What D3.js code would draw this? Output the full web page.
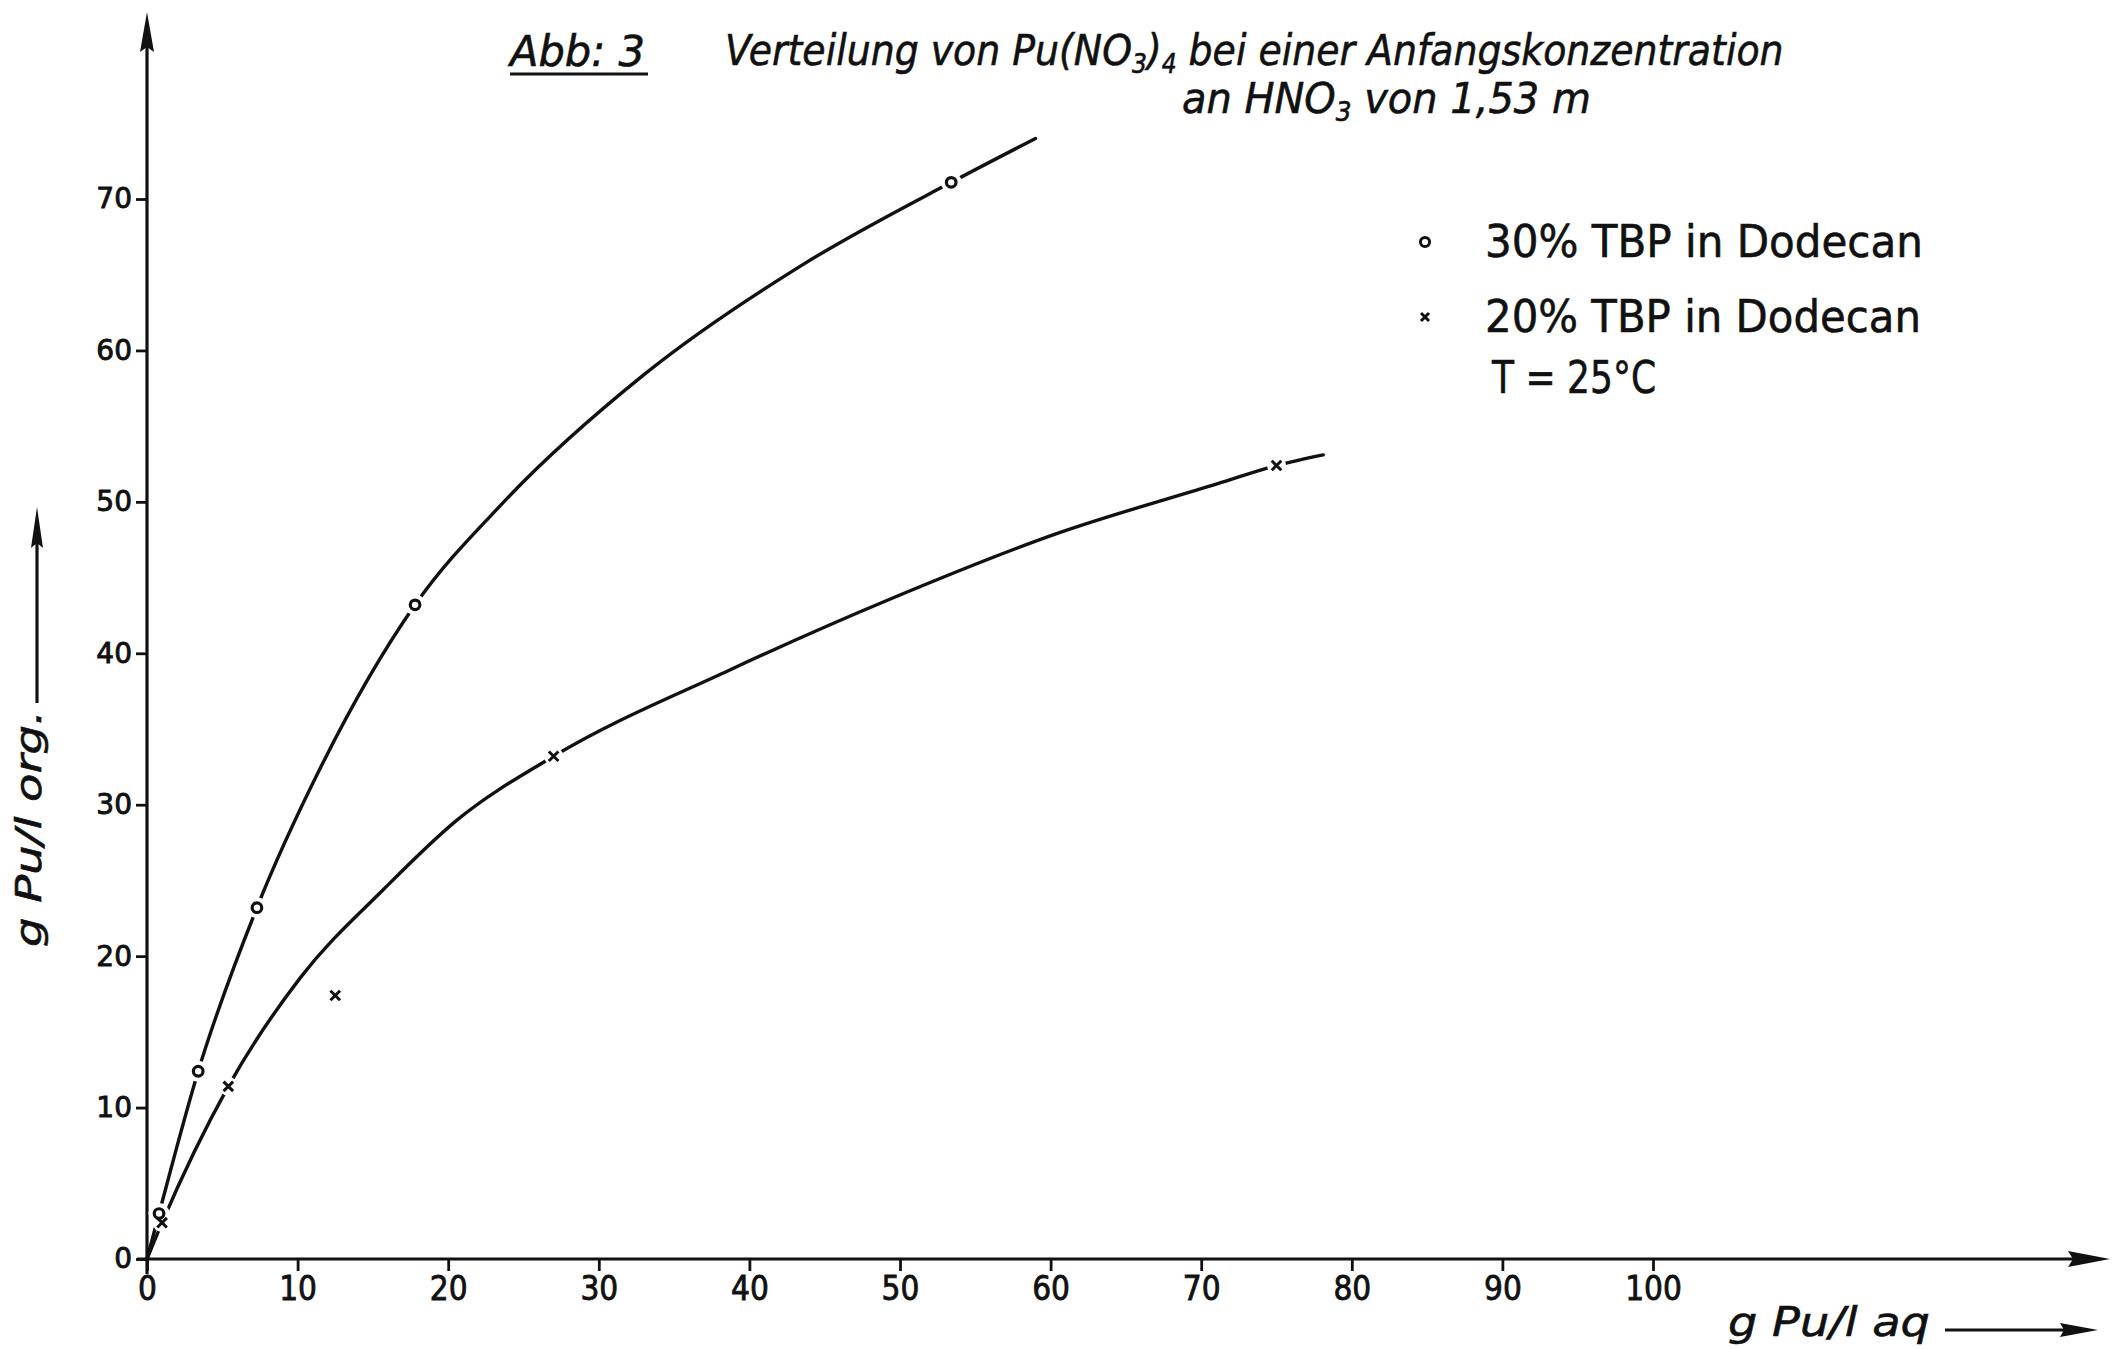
<!DOCTYPE html>
<html>
<head>
<meta charset="utf-8">
<script src="https://cdn.jsdelivr.net/npm/d3@7"></script>
<style>
  html, body { margin: 0; padding: 0; background: #fff; }
  svg { display: block; }
</style>
</head>
<body>
<svg id="chart" width="2113" height="1349"></svg>
<script>
// ---------------- DATA ----------------
const xTicks = [0, 10, 20, 30, 40, 50, 60, 70, 80, 90, 100];
const yTicks = [0, 10, 20, 30, 40, 50, 60, 70];

// measured points, 30% TBP in Dodecan (circles)
const tbp30X = [0.8, 3.4, 7.3, 17.8, 53.4];
const tbp30Y = [3.0, 12.4, 23.2, 43.2, 71.1];

// measured points, 20% TBP in Dodecan (crosses)
const tbp20X = [1.0, 5.4, 12.5, 27.0, 75.0];
const tbp20Y = [2.4, 11.4, 17.4, 33.2, 52.4];

// hand-drawn fitted curves
const curve30X = [0, 0.8, 3.4, 7.3, 11.6, 17.8, 23.6, 33.0, 43.6, 53.4, 59.0];
const curve30Y = [0, 3.0, 12.4, 23.2, 32.6, 43.2, 49.9, 58.4, 65.7, 71.1, 74.0];

const curve20X = [0, 1.0, 5.4, 10.2, 15.7, 20.6, 27.0, 38.7, 49.4, 60.4, 71.1, 75.0, 78.1];
const curve20Y = [0, 2.4, 11.4, 18.6, 24.4, 29.0, 33.2, 38.9, 43.6, 47.9, 51.2, 52.4, 53.1];

const legendLabels = ["30% TBP in Dodecan", "20% TBP in Dodecan"];
const tempLabel = "T = 25°C";
const xTitle = "g Pu/l aq";
const yTitle = "g Pu/l org.";

// ---------------- DRAW ----------------
const svg = d3.select("#chart");
const ink = "#111";

const x = d3.scaleLinear().domain([0, 100]).range([147, 1653]);
const y = d3.scaleLinear().domain([0, 70]).range([1259, 199]);

// helper: place text scaled horizontally to a target width
function fitText(parent, tx, ty, target, build, rotate) {
  const g = parent.append("g");
  const t = g.append("text").attr("x", 0).attr("y", 0);
  build(t);
  const w = t.node().getBBox().width;
  const sx = target / w;
  g.attr("transform", `translate(${tx},${ty})` + (rotate ? ` rotate(${rotate})` : "") + ` scale(${sx},1)`);
  return g;
}

// axes lines
const x0 = x(0), y0 = y(0);
svg.append("line").attr("x1", x0 - 10).attr("x2", 2075).attr("y1", y0).attr("y2", y0)
  .attr("stroke", ink).attr("stroke-width", 3.2);
svg.append("path").attr("d", `M2110,${y0} L2068,${y0 - 8} L2073,${y0} L2068,${y0 + 8} Z`).attr("fill", ink);
svg.append("line").attr("x1", x0).attr("x2", x0).attr("y1", y0 + 15).attr("y2", 45)
  .attr("stroke", ink).attr("stroke-width", 3.2);
svg.append("path").attr("d", `M${x0},12 L${x0 - 7},52 L${x0},47 L${x0 + 7},52 Z`).attr("fill", ink);

// x axis ticks
const gx = svg.append("g").attr("transform", `translate(0,${y0})`)
  .call(d3.axisBottom(x).tickValues(xTicks).tickSize(12).tickPadding(6).tickFormat(d3.format("d")));
gx.select(".domain").remove();
gx.selectAll(".tick line").attr("stroke", ink).attr("stroke-width", 2.8);
gx.selectAll(".tick text").attr("fill", ink).attr("stroke", ink).attr("stroke-width", 0.8)
  .style("font-family", "'Liberation Sans Narrow', 'DejaVu Sans Condensed', sans-serif")
  .style("font-size", "33px");

// y axis ticks
const gy = svg.append("g").attr("transform", `translate(${x0},0)`)
  .call(d3.axisLeft(y).tickValues(yTicks).tickSize(11).tickPadding(4).tickFormat(d3.format("d")));
gy.select(".domain").remove();
gy.selectAll(".tick line").attr("stroke", ink).attr("stroke-width", 2.8);
gy.selectAll(".tick text").attr("fill", ink).attr("stroke", ink).attr("stroke-width", 0.9)
  .style("font-family", "'DejaVu Sans', sans-serif")
  .style("font-size", "28px");

// curves
const line = d3.line().x(d => x(d[0])).y(d => y(d[1])).curve(d3.curveMonotoneX);
svg.append("path").datum(d3.zip(curve30X, curve30Y)).attr("d", line)
  .attr("fill", "none").attr("stroke", ink).attr("stroke-width", 3.4).attr("stroke-linecap", "round");
svg.append("path").datum(d3.zip(curve20X, curve20Y)).attr("d", line)
  .attr("fill", "none").attr("stroke", ink).attr("stroke-width", 3.4).attr("stroke-linecap", "round");

// markers with white gap (the drawn line is interrupted near each point)
const pts30 = d3.zip(tbp30X, tbp30Y);
const pts20 = d3.zip(tbp20X, tbp20Y);

svg.append("g").selectAll("circle").data(pts30).join("circle")
  .attr("cx", d => x(d[0])).attr("cy", d => y(d[1])).attr("r", 10.5).attr("fill", "#fff");
svg.append("g").selectAll("circle").data(pts20).join("circle")
  .attr("cx", d => x(d[0])).attr("cy", d => y(d[1])).attr("r", 9.5).attr("fill", "#fff");

svg.append("g").selectAll("circle").data(pts30).join("circle")
  .attr("cx", d => x(d[0])).attr("cy", d => y(d[1])).attr("r", 4.8)
  .attr("fill", "#fff").attr("stroke", ink).attr("stroke-width", 3.2);

function cross(sel, s) {
  sel.append("path").attr("d", d => {
    const cx = x(d[0]), cy = y(d[1]);
    return `M${cx - s},${cy - s}L${cx + s},${cy + s}M${cx - s},${cy + s}L${cx + s},${cy - s}`;
  }).attr("stroke", ink).attr("stroke-width", 3).attr("fill", "none");
}
const gc = svg.append("g").selectAll("g").data(pts20).join("g");
cross(gc, 4.8);

// title
const titleFont = "'DejaVu Sans', sans-serif";
fitText(svg, 510, 66, 138, t => {
  t.style("font-family", titleFont).style("font-style", "italic").style("font-size", "42px")
   .attr("fill", ink).attr("stroke", ink).attr("stroke-width", 0.6).text("Abb: 3");
});
svg.append("line").attr("x1", 510).attr("x2", 648).attr("y1", 74).attr("y2", 74)
  .attr("stroke", ink).attr("stroke-width", 3.2);

fitText(svg, 725, 65, 1059, t => {
  t.style("font-family", titleFont).style("font-style", "italic").style("font-size", "42px")
   .attr("fill", ink).attr("stroke", ink).attr("stroke-width", 0.6);
  t.append("tspan").text("Verteilung von Pu(NO");
  t.append("tspan").attr("dy", 8).style("font-size", "26px").text("3");
  t.append("tspan").attr("dy", -8).text(")");
  t.append("tspan").attr("dy", 8).style("font-size", "26px").text("4");
  t.append("tspan").attr("dy", -8).text(" bei einer Anfangskonzentration");
});
fitText(svg, 1182, 113, 409, t => {
  t.style("font-family", titleFont).style("font-style", "italic").style("font-size", "42px")
   .attr("fill", ink).attr("stroke", ink).attr("stroke-width", 0.6);
  t.append("tspan").text("an HNO");
  t.append("tspan").attr("dy", 8).style("font-size", "26px").text("3");
  t.append("tspan").attr("dy", -8).text("  von 1,53 m");
});

// legend
const lgFont = "'DejaVu Sans', sans-serif";
svg.append("circle").attr("cx", 1425).attr("cy", 242).attr("r", 4.6)
  .attr("fill", "#fff").attr("stroke", ink).attr("stroke-width", 3);
svg.append("path").attr("d", "M1421,313L1429,321M1421,321L1429,313")
  .attr("stroke", ink).attr("stroke-width", 3);
fitText(svg, 1485, 257, 438, t => {
  t.style("font-family", lgFont).style("font-size", "44px").attr("fill", ink)
   .attr("stroke", ink).attr("stroke-width", 0.6).text(legendLabels[0]);
});
fitText(svg, 1485, 332, 436, t => {
  t.style("font-family", lgFont).style("font-size", "44px").attr("fill", ink)
   .attr("stroke", ink).attr("stroke-width", 0.6).text(legendLabels[1]);
});
fitText(svg, 1492, 393, 165, t => {
  t.style("font-family", lgFont).style("font-size", "44px").attr("fill", ink)
   .attr("stroke", ink).attr("stroke-width", 0.6).text(tempLabel);
});

// x axis title + arrow
fitText(svg, 1728, 1336, 202, t => {
  t.style("font-family", titleFont).style("font-style", "italic").style("font-size", "40px")
   .attr("fill", ink).attr("stroke", ink).attr("stroke-width", 0.6).text(xTitle);
});
svg.append("line").attr("x1", 1945).attr("x2", 2065).attr("y1", 1330).attr("y2", 1330)
  .attr("stroke", ink).attr("stroke-width", 3.2);
svg.append("path").attr("d", "M2098,1330 L2060,1323 L2064,1330 L2060,1337 Z").attr("fill", ink);

// y axis title + arrow
fitText(svg, 41, 947, 237, t => {
  t.style("font-family", titleFont).style("font-style", "italic").style("font-size", "35px")
   .attr("fill", ink).attr("stroke", ink).attr("stroke-width", 0.6).text(yTitle);
}, -90);
svg.append("line").attr("x1", 37).attr("x2", 37).attr("y1", 703).attr("y2", 540)
  .attr("stroke", ink).attr("stroke-width", 3.2);
svg.append("path").attr("d", "M37,507 L31,548 L37,543 L43,548 Z").attr("fill", ink);
</script>
</body>
</html>
